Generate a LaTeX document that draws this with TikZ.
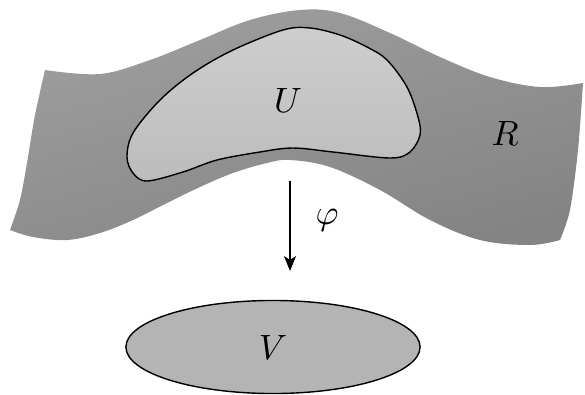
\documentclass[tikz,border=0pt]{standalone}
\usepackage{tikz}
\usetikzlibrary{shapes.geometric, arrows.meta, positioning}
\usepackage{amsmath}
\definecolor{colSurfTop}{RGB}{158,158,158}
\definecolor{colSurfBot}{RGB}{132,132,132}
\definecolor{colPatchTop}{RGB}{206,206,206}
\definecolor{colPatchBot}{RGB}{188,188,188}
\definecolor{colDisc}{RGB}{180,180,180}
\tikzset{
    surface/.style={top color=colSurfTop, bottom color=colSurfBot, shading angle=15},
    patch/.style={draw=black, thin, top color=colPatchTop, bottom color=colPatchBot},
    disc/.style={ellipse, draw=black, thin, fill=colDisc,
        minimum width=2.94cm, minimum height=0.93cm},
    maplabel/.style={inner sep=1pt},
    arrow/.style={-{Stealth[length=1.5mm, width=1.2mm, inset=0.4mm]}, line width=0.3pt}
}

\begin{document}
\begin{tikzpicture}[x=0.01cm, y=-0.01cm]
    \useasboundingbox (0,0) rectangle (585,394);

    % the surface R
    \shade[surface]
        plot[smooth, tension=0.6] coordinates {(45,70) (100,74) (150,60) (200,40) (250,20) (300,10) (340,13) (390,33) (440,57) (490,77) (540,87) (583,83)}
        -- plot[smooth] coordinates {(583,83) (578,150) (570,210) (560,240)}
        -- plot[smooth, tension=0.6] coordinates {(560,240) (530,245) (480,240) (430,220) (380,190) (330,167) (290,160) (267,163) (233,173) (200,187) (167,203) (133,220) (100,233) (67,240) (33,237) (10,230)}
        -- plot[smooth] coordinates {(10,230) (20,200) (27,163) (35,115) (45,70)}
        -- cycle;

    % the open set U
    \draw[patch] plot[smooth cycle, tension=0.55] coordinates {(283,30) (310,28) (340,35) (367,47) (387,60) (407,87) (418,117) (420,135) (410,152) (390,158) (333,152) (293,148) (260,152) (217,160) (183,172) (147,181) (133,173) (127,157) (133,133) (160,100) (193,73) (233,50)};

    \node[maplabel] (U) at (288,100) {$U$};
    \node[maplabel] (R) at (505,133) {$R$};

    % the chart
    \coordinate (maptop) at (290,181);
    \coordinate (mapbot) at (290,271);
    \draw[arrow] (maptop) -- (mapbot);
    \node[maplabel] (phi) at (327,220) {$\varphi$};

    \node[disc] (V) at (273,347) {$V$};
\end{tikzpicture}
\end{document}
